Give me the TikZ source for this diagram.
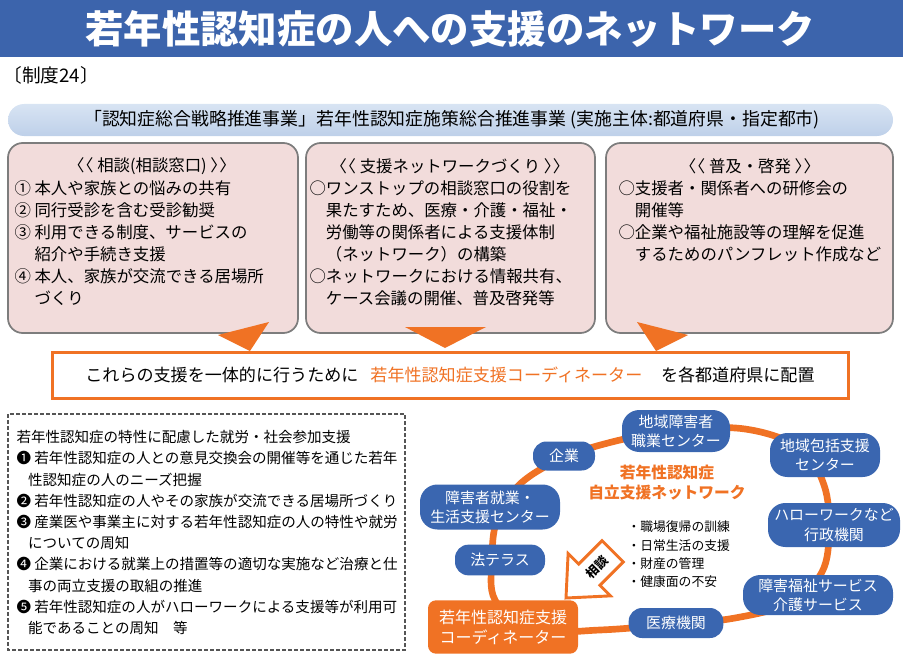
\documentclass[tikz,border=0pt]{standalone}
\usepackage{fontspec}
\setmainfont{Noto Sans CJK JP}

\definecolor{titleblue}{RGB}{60,100,172}
\definecolor{nodeblue}{RGB}{58,102,176}
\definecolor{netorange}{RGB}{240,114,36}
\definecolor{boxpink}{RGB}{242,220,219}
\definecolor{boxgray}{RGB}{125,125,125}
\definecolor{bartop}{RGB}{216,228,243}
\definecolor{barbot}{RGB}{190,208,233}
\definecolor{dashgray}{RGB}{85,85,85}

\newcommand{\titlefont}{\fontsize{28.8}{30}\selectfont\bfseries}
\newcommand{\barfont}{\fontsize{13.4}{15}\selectfont}
\newcommand{\boxfont}{\fontsize{12.3}{16.5}\selectfont}
\newcommand{\notefont}{\fontsize{10.9}{15.9}\selectfont}
\newcommand{\netfont}{\fontsize{11.2}{14.3}\selectfont}

\tikzset{every picture/.style={line width=0.75pt}}
\tikzset{
  pinkbox/.style={draw=boxgray, fill=boxpink, line width=1.3pt, rounded corners=11pt},
  netnode/.style={fill=nodeblue, text=white, align=center, inner sep=0pt, font=\netfont},
  plain/.style={inner sep=0pt, align=left},
}

\begin{document}
\begin{tikzpicture}[x=0.75pt,y=0.75pt,yscale=-1,xscale=1]
\useasboundingbox (0,0) rectangle (903,660);
%Shape: Title bar
\fill[titleblue] (0,0) rectangle (903,57);
% Text Node
\draw (450,29) node (title) [text=white] [font=\titlefont] {若年性認知症の人への支援のネットワーク};
% Text Node
\draw (3,75) node (seido) [anchor=west][plain][font=\fontsize{14}{16}\selectfont] {〔制度24〕};

%Shape: Rounded bar
\shade[top color=bartop, bottom color=barbot, rounded corners=12pt] (8,104) rectangle (893,136);
% Text Node
\draw (452,120) node (jigyo) [plain][font=\barfont] {「認知症総合戦略推進事業」若年性認知症施策総合推進事業 (実施主体:都道府県・指定都市)};

%Shape: three boxes
\draw (153,238) node (soudan) [pinkbox, minimum width=217.5pt, minimum height=142.5pt] {};
\draw (450.5,238) node (network) [pinkbox, minimum width=216.75pt, minimum height=142.5pt] {};
\draw (749.5,238) node (fukyu) [pinkbox, minimum width=215.25pt, minimum height=142.5pt] {};

% Text Node
\draw (152,166) node (soudanhd) [plain][font=\boxfont] {〈\kern-.45em〈\ 相談(相談窓口)\ 〉\kern-.45em〉};
\draw (14,243) node (soudanbd) [anchor=west][plain][font=\boxfont] {① 本人や家族との悩みの共有\\② 同行受診を含む受診勧奨\\③ 利用できる制度、サービスの\\\phantom{③ }紹介や手続き支援\\④ 本人、家族が交流できる居場所\\\phantom{④ }づくり};
% Text Node
\draw (450,166) node (networkhd) [plain][font=\boxfont] {〈\kern-.45em〈\ 支援ネットワークづくり\ 〉\kern-.45em〉};
\draw (309,243) node (networkbd) [anchor=west][plain][font=\boxfont] {○ワンストップの相談窓口の役割を\\\phantom{○}果たすため、医療・介護・福祉・\\\phantom{○}労働等の関係者による支援体制\\\phantom{○}（ネットワーク）の構築\\○ネットワークにおける情報共有、\\\phantom{○}ケース会議の開催、普及啓発等};
% Text Node
\draw (750,166) node (fukyuhd) [plain][font=\boxfont] {〈\kern-.45em〈\ 普及・啓発\ 〉\kern-.45em〉};
\draw (618,221) node (fukyubd) [anchor=west][plain][font=\boxfont] {○支援者・関係者への研修会の\\\phantom{○}開催等\\○企業や福祉施設等の理解を促進\\\phantom{○}するためのパンフレット作成など};

%Shape: Triangles
\fill[netorange] (269,322) -- (218,335) -- (250,351) -- cycle;
\fill[netorange] (405,327) -- (486,327) -- (445,348) -- cycle;
\fill[netorange] (637,322) -- (688,335) -- (656,351) -- cycle;

%Shape: Orange bar
\draw (450,375) node (haichi) [draw=netorange, line width=2.25pt, fill=white, minimum width=597pt, minimum height=34.5pt][font=\fontsize{12.8}{15}\selectfont] {これらの支援を一体的に行うために\hspace{9pt}\textcolor{netorange}{若年性認知症支援コーディネーター}\hspace{14pt}を各都道府県に配置};

%Shape: Dashed box
\draw[dashgray, line width=1.2pt, dash pattern=on 3pt off 1.5pt] (8,414) rectangle (405,650);
% Text Node
\draw (16,532.5) node (tokusei) [anchor=west][plain][font=\notefont] {若年性認知症の特性に配慮した就労・社会参加支援\\❶ 若年性認知症の人との意見交換会の開催等を通じた若年\\\hspace{0.8em}性認知症の人のニーズ把握\\❷ 若年性認知症の人やその家族が交流できる居場所づくり\\❸ 産業医や事業主に対する若年性認知症の人の特性や就労\\\hspace{0.8em}についての周知\\❹ 企業における就業上の措置等の適切な実施など治療と仕\\\hspace{0.8em}事の両立支援の取組の推進\\❺ 若年性認知症の人がハローワークによる支援等が利用可\\\hspace{0.8em}能であることの周知\quad 等};

%Shape: Ring
\draw[netorange, line width=5pt] plot[smooth cycle, tension=0.6] coordinates {(495,600) (492,560) (497,520) (520,484) (565,457) (620,440) (676,430) (745,429) (800,448) (824,485) (829,530) (822,572) (790,603) (735,618) (676,624) (600,630) (530,630)};

% Network nodes
\draw (676,431) node (shokugyo) [netnode, rounded corners=13pt, minimum width=81pt, minimum height=31.5pt] {地域障害者\\職業センター};
\draw (825,455) node (hokatsu) [netnode, rounded corners=13pt, minimum width=82.5pt, minimum height=33pt] {地域包括支援\\センター};
\draw (564,456) node (kigyo) [netnode, rounded corners=10pt, minimum width=46.5pt, minimum height=21.75pt] {企業};
\draw (490,507) node (shugyo) [netnode, rounded corners=13pt, minimum width=105pt, minimum height=33.75pt] {障害者就業・\\生活支援センター};
\draw (834,525) node (gyosei) [netnode, rounded corners=13pt, minimum width=99pt, minimum height=33pt] {ハローワークなど\\行政機関};
\draw (500,560) node (houterasu) [netnode, rounded corners=10pt, minimum width=67.5pt, minimum height=23pt] {法テラス};
\draw (818,595) node (fukushi) [netnode, rounded corners=13pt, minimum width=112.5pt, minimum height=30pt] {障害福祉サービス\\介護サービス};
\draw (676,623) node (iryo) [netnode, rounded corners=10pt, minimum width=71pt, minimum height=22.5pt] {医療機関};
\draw (503,627) node (coord) [netnode, fill=netorange, rounded corners=6pt, minimum width=112.5pt, minimum height=40pt][font=\fontsize{12}{15}\selectfont] {若年性認知症支援\\コーディネーター};

% Text Node
\draw (667,483) node (netlabel) [plain, align=center][text=netorange][font=\fontsize{11.8}{15}\selectfont\bfseries] {若年性認知症\\自立支援ネットワーク};
% Text Node
\draw (627,554.5) node (naiyo) [anchor=west][plain][font=\fontsize{9.6}{13.7}\selectfont] {・職場復帰の訓練\\・日常生活の支援\\・財産の管理\\・健康面の不安};

%Shape: Soudan arrow
\begin{scope}[shift={(566,598)}, rotate=-45]
\draw[netorange, line width=2.2pt, fill=white, line join=miter] (0,0) -- (33,-30) -- (33,-15) -- (66,-15) -- (66,15) -- (33,15) -- (33,30) -- cycle;
\draw (44,0) node (soudanarrow) [plain, rotate=45][font=\fontsize{9.4}{11}\selectfont\bfseries] {相談};
\end{scope}
\end{tikzpicture}
\end{document}
